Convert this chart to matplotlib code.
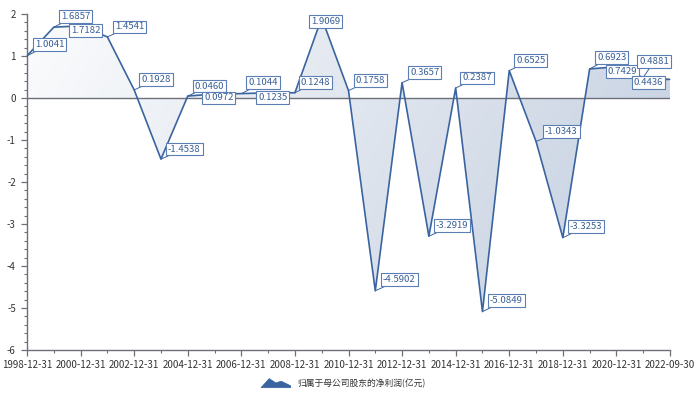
import numpy as np
import matplotlib
matplotlib.use("Agg")
import matplotlib.pyplot as plt
from matplotlib.colors import LinearSegmentedColormap
from matplotlib.legend_handler import HandlerBase
from matplotlib.patches import Polygon
from matplotlib.ticker import FixedLocator, MultipleLocator

# ---------------- data ----------------
dates = ["1998-12-31", "1999-12-31", "2000-12-31", "2001-12-31", "2002-12-31",
         "2003-12-31", "2004-12-31", "2005-12-31", "2006-12-31", "2007-12-31",
         "2008-12-31", "2009-12-31", "2010-12-31", "2011-12-31", "2012-12-31",
         "2013-12-31", "2014-12-31", "2015-12-31", "2016-12-31", "2017-12-31",
         "2018-12-31", "2019-12-31", "2020-12-31", "2021-12-31", "2022-09-30"]
profit = [1.0041, 1.6857, 1.7182, 1.4541, 0.1928, -1.4538, 0.0460, 0.0972,
          0.1044, 0.1235, 0.1248, 1.9069, 0.1758, -4.5902, 0.3657, -3.2919,
          0.2387, -5.0849, 0.6525, -1.0343, -3.3253, 0.6923, 0.7429, 0.4881,
          0.4436]
series_name = "归属于母公司股东的净利润(亿元)"

# label box placement (pixels: box-left dx, box-centre dy, screen y down)
label_offsets = [(6, -11.6), (5, -11), (-11.6, 5), (5.6, -10), (5, -10),
                 (5, -10), (5, -10), (-12.5, 4), (5, -11), (-12, 5),
                 (4, -10.5), (-12.7, 4), (5.5, -10.5), (5.7, -11), (6, -10),
                 (5, -10.5), (4.5, -10), (5.6, -11.4), (5, -10.4), (7, -10),
                 (5, -11), (5.5, -11.7), (-10.5, 4.4), (-6, -16), (-38, 3)]

# ---------------- style ----------------
LINE = "#3a64a0"
AXIS = "#6e7079"
TXT = "#333333"
FONT = ["Noto Sans CJK SC", "DejaVu Sans"]
plt.rcParams["font.family"] = FONT

fig = plt.figure(figsize=(7.0, 3.95), dpi=100)
ax = fig.add_axes([27 / 700, 1 - 350 / 395, (670 - 27) / 700, (350 - 14) / 395])

x = np.arange(len(dates))
y = np.array(profit)

ax.set_xlim(0, len(dates) - 1)
ax.set_ylim(-6, 2)

# gradient area between line and zero
poly = ax.fill_between(x, y, 0, facecolor="none", edgecolor="none")
nx, ny = 300, 150
X, Y = np.meshgrid(np.linspace(0, 1, nx), np.linspace(0, 1, ny))
T = 0.8 * X + 0.25 * (1 - Y)
T = np.clip(T, 0, 1)
cmap = LinearSegmentedColormap.from_list("g", ["#fbfcfd", "#c4cfe0"])
im = ax.imshow(T, cmap=cmap, vmin=0, vmax=1, origin="lower", aspect="auto",
               extent=[0, len(dates) - 1, -6, 2], zorder=1, interpolation="bilinear")
im.set_clip_path(poly.get_paths()[0], transform=ax.transData)

ax.axhline(0, color=AXIS, lw=1.0, zorder=2)
ax.plot(x, y, color=LINE, lw=1.2, zorder=3, label=series_name)

# labels
for i, (xi, yi) in enumerate(zip(x, y)):
    dx, dy = label_offsets[i]
    ax.annotate(f"{profit[i]:.4f}", xy=(xi, yi), xytext=(dx + 2, -dy),
                textcoords="offset pixels", ha="left", va="center",
                fontsize=6.9, color="#3a5f95", zorder=5,
                bbox=dict(boxstyle="square,pad=0.2", fc="white", ec="#5b7fb5", lw=0.8),
                arrowprops=dict(arrowstyle="-", color=LINE, lw=0.7,
                                shrinkA=0, shrinkB=0))

# axes styling
for s in ["top", "right"]:
    ax.spines[s].set_visible(False)
for s in ["left", "bottom"]:
    ax.spines[s].set_color(AXIS)
    ax.spines[s].set_linewidth(1.0)

ax.xaxis.set_major_locator(FixedLocator(x[::2]))
ax.set_xticklabels(dates[::2])
ax.xaxis.set_minor_locator(FixedLocator(x))
ax.yaxis.set_major_locator(MultipleLocator(1))
ax.yaxis.set_minor_locator(MultipleLocator(0.2))
ax.tick_params(axis="both", which="major", colors=AXIS, labelcolor=TXT,
               labelsize=7, length=4, width=0.9)
ax.tick_params(axis="both", which="minor", colors=AXIS, length=2.2, width=0.8)
ax.tick_params(axis="x", pad=3)
ax.tick_params(axis="y", pad=4)
ax.set_yticklabels([f"{int(v)}" for v in ax.get_yticks()])


class HandlerMountain(HandlerBase):
    def create_artists(self, legend, orig_handle, xdescent, ydescent, width,
                       height, fontsize, trans):
        w, h = width, height
        pts = [(0, 0), (0.28 * w, 0.95 * h), (0.5 * w, 0.5 * h),
               (0.68 * w, 0.68 * h), (w, 0.2 * h), (w, 0)]
        p = Polygon(np.array(pts) - [xdescent, ydescent], closed=True,
                    fc=LINE, ec=LINE, lw=0.5, transform=trans)
        return [p]


handles, labels = ax.get_legend_handles_labels()
leg = fig.legend(handles, labels, loc="center", bbox_to_anchor=(0.49, 1 - 383 / 395),
                 frameon=False, fontsize=6.3, handlelength=3.4, handleheight=1.3,
                 handletextpad=0.7, handler_map={handles[0]: HandlerMountain()})
for t in leg.get_texts():
    t.set_color(TXT)

fig.savefig("out.png", dpi=100)
